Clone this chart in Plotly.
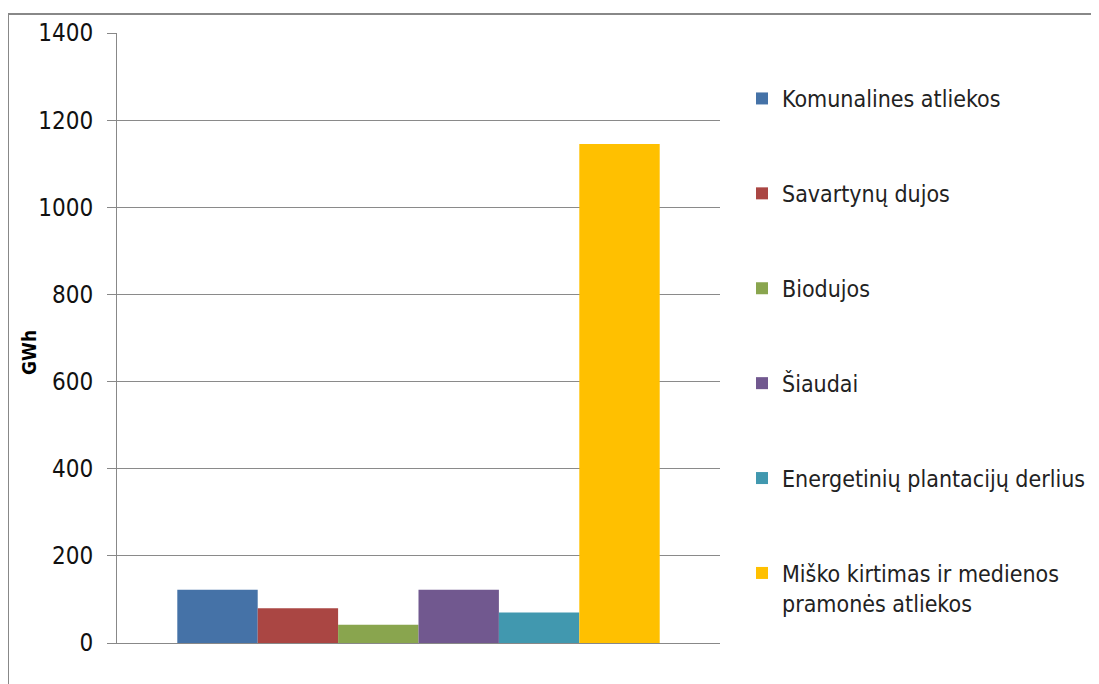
import plotly.graph_objects as go

series = ["Komunalines atliekos", "Savartynų dujos", "Biodujos", "Šiaudai",
          "Energetinių plantacijų derlius", "Miško kirtimas ir medienos<br>pramonės atliekos"]
values = [122, 80, 42, 122, 70, 1145]
colors = ["#4572A7", "#AA4643", "#89A54E", "#71588F", "#4198AF", "#FFC000"]
category = ["Biomasė"]
y_ticks = [0, 200, 400, 600, 800, 1000, 1200, 1400]

FONT = "DejaVu Sans Condensed, Liberation Sans Narrow, sans-serif"

fig = go.Figure()
for name, v, c in zip(series, values, colors):
    fig.add_trace(go.Bar(x=category, y=[v], name=name, marker_color=c,
                         marker_line_width=0, legendgroup=name))

# page body has an 8px margin; figure coords = page coords - 8
OFF = 8
W, H = 1099, 684
L, R, T, B = 117 - OFF, W - (720 - OFF), 33 - OFF, H - (643 - OFF)
pw, ph = W - L - R, H - T - B

def px_x(x):  # page px -> paper x
    return (x - OFF - L) / pw

def px_y(y):  # page px -> paper y
    return (H - B - (y - OFF)) / ph

fig.update_layout(
    width=W, height=H,
    margin=dict(l=L, r=R, t=T, b=B),
    paper_bgcolor="white", plot_bgcolor="white",
    barmode="group", bargap=0.2, bargroupgap=0,
    font=dict(family=FONT, size=22, color="#111"),
    showlegend=True,
    legend=dict(
        x=px_x(742), xanchor="left",
        y=px_y(77), yanchor="top",
        traceorder="grouped", tracegroupgap=62, valign="top",
        font=dict(family=FONT, size=23, color="#222"),
        itemwidth=30, bgcolor="rgba(0,0,0,0)",
    ),
    xaxis=dict(showticklabels=False, showline=True, linecolor="#888", linewidth=1,
               ticks="", showgrid=False, fixedrange=True),
    yaxis=dict(range=[0, 1400], tickvals=y_ticks, ticktext=[str(t) for t in y_ticks],
               showgrid=True, gridcolor="#8a8a8a", gridwidth=1,
               showline=True, linecolor="#888", linewidth=1,
               ticks="outside", ticklen=9, tickcolor="#888",
               ticklabelstandoff=9,
               tickfont=dict(family=FONT, size=24, color="#111"),
               zeroline=False),
    annotations=[dict(text="<b>GWh</b>", textangle=-90, xref="paper", yref="paper",
                      x=px_x(29), y=px_y(353), xanchor="center", yanchor="middle",
                      showarrow=False, font=dict(family=FONT, size=19, color="#000"))],
    shapes=[dict(type="rect", xref="paper", yref="paper",
                 x0=px_x(8), x1=px_x(1115),
                 y0=px_y(14), y1=px_y(710),
                 line=dict(color="#888", width=2), fillcolor="rgba(0,0,0,0)", layer="below")],
)

fig.write_html("out.html")
